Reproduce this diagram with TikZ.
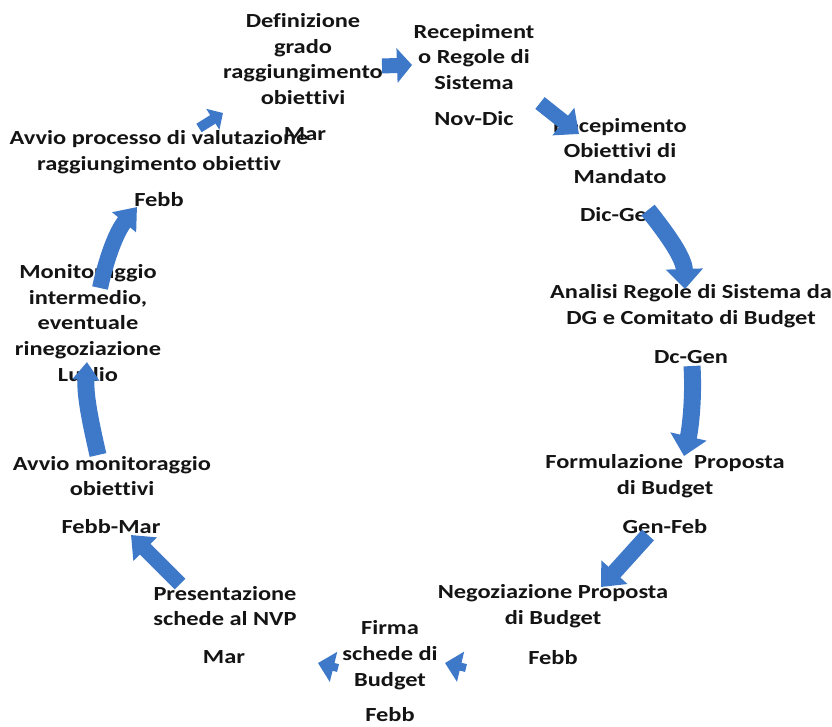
\documentclass[tikz,border=0pt]{standalone}
\usepackage{fontspec}
\setmainfont{Carlito}[FakeStretch=1.22,Ligatures={NoCommon}]
\usetikzlibrary{arrows.meta}
\definecolor{arrowblue}{RGB}{62,120,200}
\definecolor{txt}{RGB}{20,20,20}
\begin{document}
\begin{tikzpicture}[x=1pt,y=-1pt,
  lbl/.style={font=\bfseries\fontsize{20}{25.7}\selectfont, align=center, inner sep=0pt, text=txt},
  blk/.style={arrowblue, line width=#1},
  blk/.default=15pt
]
\useasboundingbox[fill=white] (0,0) rectangle (832,726);
% labels
\node[lbl] (def) at (303,59) {Definizione\\grado\\raggiungimento\\obiettivi};
\node[lbl] (defd) at (305,134) {Mar};
\node[lbl] (reg) at (474,57) {Recepiment\\o Regole di\\Sistema};
\node[lbl] (regd) at (474,119) {Nov-Dic};
\node[lbl] (obi) at (620,151) {Recepimento\\Obiettivi di\\Mandato};
\node[lbl] (obid) at (620,215) {Dic-Gen};
\node[lbl] (ana) at (691,306) {Analisi Regole di Sistema da\\DG e Comitato di Budget};
\node[lbl] (anad) at (691,357) {Dc-Gen};
\node[lbl] (for) at (665,476) {Formulazione\ \ Proposta\\di Budget};
\node[lbl] (ford) at (665,527) {Gen-Feb};
\node[lbl] (neg) at (553,606) {Negoziazione Proposta\\di Budget};
\node[lbl] (negd) at (553,658) {Febb};
\node[lbl] (fir) at (390,655) {Firma\\schede di\\Budget};
\node[lbl] (fird) at (390,715) {Febb};
\node[lbl] (pre) at (225,606) {Presentazione\\schede al NVP};
\node[lbl] (pred) at (224,657) {Mar};
\node[lbl] (avm) at (112,476) {Avvio monitoraggio\\obiettivi};
\node[lbl] (avmd) at (111,527) {Febb-Mar};
\node[lbl] (mon) at (88,324.5) {Monitoraggio\\intermedio,\\eventuale\\rinegoziazione\\Luglio};
\node[lbl] (avp) at (159,152) {Avvio processo di valutazione\\raggiungimento obiettiv};
\node[lbl] (avpd) at (159,200) {Febb};
% arrow end points
\coordinate (a1s) at (199,128); \coordinate (a1e) at (223,113);
\coordinate (a2s) at (382,66);  \coordinate (a2e) at (412,65);
\coordinate (a3s) at (540,103); \coordinate (a3e) at (579,134);
\coordinate (a4s) at (648,210); \coordinate (a4e) at (685,289);
\coordinate (a5s) at (692,366); \coordinate (a5e) at (684,456);
\coordinate (a6s) at (648,535); \coordinate (a6e) at (601,587);
\coordinate (a7s) at (466,668); \coordinate (a7e) at (445,663);
\coordinate (a8s) at (338,668); \coordinate (a8e) at (318,663);
\coordinate (a9s) at (180,584); \coordinate (a9e) at (131,535);
\coordinate (a10s) at (98,455); \coordinate (a10e) at (87,362);
\coordinate (a11s) at (100,288); \coordinate (a11e) at (137,207);
% arrows
\draw[blk=10pt, -{Triangle[width=24pt,length=12pt]}] (a1s) -- (a1e);
\draw[blk=15pt, -{Triangle[width=34pt,length=15pt]}] (a2s) -- (a2e);
\draw[blk=15pt, -{Triangle[width=34pt,length=20pt]}] (a3s) -- (a3e);
\draw[blk=17pt, -{Triangle[width=36pt,length=20pt]}] (a4s) .. controls (668,235) and (684,258) .. (a4e);
\draw[blk=17pt, -{Triangle[width=36pt,length=20pt]}] (a5s) .. controls (694,400) and (690,430) .. (a5e);
\draw[blk=16pt, -{Triangle[width=34pt,length=20pt]}] (a6s) -- (a6e);
\draw[blk=8pt, -{Triangle[width=30pt,length=16pt]}] (a7s) -- (a7e);
\draw[blk=8pt, -{Triangle[width=30pt,length=16pt]}] (a8s) -- (a8e);
\draw[blk=15pt, -{Triangle[width=32pt,length=20pt]}] (a9s) -- (a9e);
\draw[blk=17pt, -{Triangle[width=26pt,length=18pt]}] (a10s) .. controls (90,420) and (85,395) .. (a10e);
\draw[blk=16pt, -{Triangle[width=30pt,length=20pt]}] (a11s) .. controls (106,260) and (116,232) .. (a11e);
\end{tikzpicture}
\end{document}
